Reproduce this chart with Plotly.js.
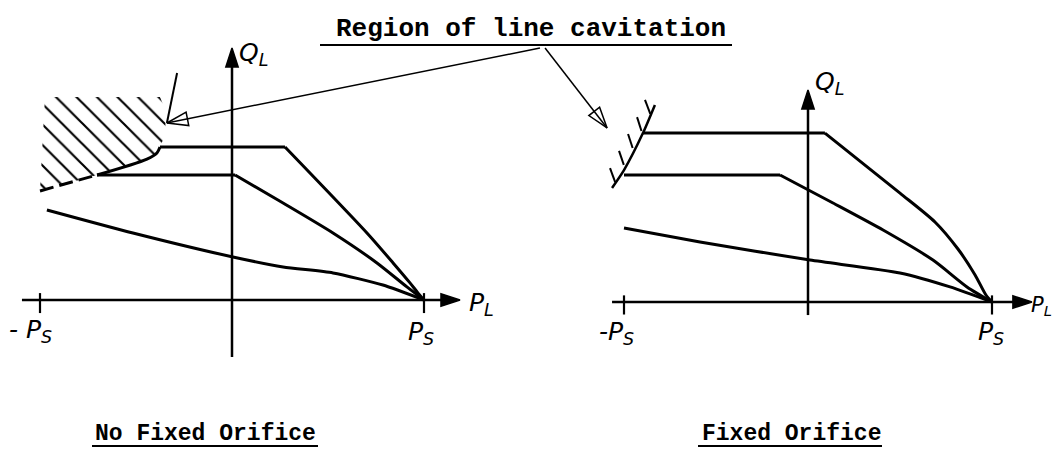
<!DOCTYPE html>
<html>
<head>
<meta charset="utf-8">
<script src="https://cdn.plot.ly/plotly-3.0.1.min.js"></script>
<style>html,body{margin:0;padding:0;background:#fff;}#chart{width:1054px;height:449px;}</style>
</head>
<body>
<div id="chart"></div>
<script>
// ---- Data (normalised units: P/Ps on x, Q on y) ----
// Left panel: "No Fixed Orifice"
const leftTopX = [-0.375, 0.276, 0.703, 0.839, 0.927, 0.969, 1.0];
const leftTopY = [0.797, 0.797, 0.349, 0.193, 0.089, 0.036, 0];
const leftMidX = [-0.703, 0.016, 0.266, 0.526, 0.755, 0.911, 1.0];
const leftMidY = [0.651, 0.651, 0.505, 0.349, 0.193, 0.068, 0];
const leftLowX = [-0.964, -0.516, 0.005, 0.266, 0.526, 0.786, 1.0];
const leftLowY = [0.469, 0.349, 0.224, 0.172, 0.141, 0.078, 0];
const leftBoundX = [-0.703, -0.443, -0.391, -0.375];
const leftBoundY = [0.651, 0.734, 0.766, 0.797];
const leftBoundDashX = [-1.0, -0.703];
const leftBoundDashY = [0.568, 0.651];
const leftHatchX = [-0.974, -0.375, -0.344, -0.349, -0.375, -0.391, -0.443, -0.703, -1.0];
const leftHatchY = [1.057, 1.057, 0.979, 0.859, 0.797, 0.766, 0.734, 0.651, 0.568];
const leftLeaderX = [-0.286, -0.339];
const leftLeaderY = [1.182, 0.922];
const leftPAxisX = [-1.094, 1.1875], leftPAxisY = [0, 0];
const leftQAxisX = [0, 0], leftQAxisY = [-0.297, 1.3125];
const leftArrowX = [1.604, -0.339], leftArrowY = [1.3125, 0.922];

// Right panel: "Fixed Orifice"
const rightTopX = [-0.897, 0.092, 0.5, 0.69, 0.815, 0.908, 0.967, 1.0];
const rightTopY = [0.918, 0.918, 0.592, 0.435, 0.288, 0.147, 0.038, 0];
const rightMidX = [-1.0, -0.152, 0.136, 0.408, 0.679, 0.864, 1.0];
const rightMidY = [0.69, 0.69, 0.538, 0.391, 0.228, 0.082, 0];
const rightLowX = [-1.0, -0.587, 0.011, 0.5, 0.772, 1.0];
const rightLowY = [0.402, 0.326, 0.228, 0.158, 0.082, 0];
const rightBoundX = [-1.065, -1.0, -0.897, -0.832];
const rightBoundY = [0.620, 0.717, 0.918, 1.071];
const rightHatchLowX = [-1.048, -1.001, -0.953, -0.905, -0.857];
const rightHatchLowY = [0.652, 0.745, 0.837, 0.929, 1.022];
const rightHatchUpX = [-1.076, -1.027, -0.978, -0.929, -0.886];
const rightHatchUpY = [0.728, 0.821, 0.913, 1.005, 1.098];
const rightPAxisX = [-1.065, 1.217], rightPAxisY = [0, 0];
const rightQAxisX = [0, 0], rightQAxisY = [-0.071, 1.152];
const rightArrowX = [-1.429, -1.092], rightArrowY = [1.380, 0.946];

const tickX = [-1, 1];

// Text
const titleText = 'Region of line cavitation';
const leftCaption = 'No Fixed Orifice';
const rightCaption = 'Fixed Orifice';

// ---- Build traces ----
const K = 'black';
function line(x, y, w, ax, extra) {
  return Object.assign({type: 'scatter', mode: 'lines', x: x, y: y,
    xaxis: ax === 2 ? 'x2' : 'x', yaxis: ax === 2 ? 'y2' : 'y',
    line: {color: K, width: w}, hoverinfo: 'skip', showlegend: false}, extra || {});
}
// characteristic curve: straight plateau, smooth fall-off
function curve(x, y, ax, split) {
  return [
    line(x.slice(0, split + 1), y.slice(0, split + 1), 3, ax),
    line(x.slice(split), y.slice(split), 3, ax, {line: {color: K, width: 3, shape: 'spline', smoothing: 0.7}})
  ];
}
function arrow(x, y, w, ax, sym, size) {
  return line(x, y, w, ax, {mode: 'lines+markers',
    marker: {symbol: sym, size: [0, size], angleref: 'previous', color: K, opacity: 1,
             line: {color: K, width: 1.5}}});
}
function ticks(ax, up, down) {
  const xs = [], ys = [];
  tickX.forEach(t => { xs.push(t, t, null); ys.push(up, down, null); });
  return line(xs, ys, 2.2, ax);
}
function strokes(lx, ly, ux, uy, ax) {
  const xs = [], ys = [];
  lx.forEach((v, i) => { xs.push(v, ux[i], null); ys.push(ly[i], uy[i], null); });
  return line(xs, ys, 2, ax);
}

const traces = [
  // left panel
  line(leftHatchX, leftHatchY, 0, 1, {fill: 'toself', fillcolor: 'rgba(0,0,0,0)',
    fillpattern: {shape: '\\', size: 14.5, solidity: 0.15, fgcolor: K, bgcolor: 'rgba(0,0,0,0)'}}),
  line(leftBoundX, leftBoundY, 3, 1, {line: {color: K, width: 3, shape: 'spline', smoothing: 0.8}}),
  line(leftBoundDashX, leftBoundDashY, 3, 1, {line: {color: K, width: 3, dash: '14px,6px'}}),
  ...curve(leftTopX, leftTopY, 1, 1),
  ...curve(leftMidX, leftMidY, 1, 1),
  line(leftLowX, leftLowY, 3, 1, {line: {color: K, width: 3, shape: 'spline', smoothing: 0.6}}),
  line(leftLeaderX, leftLeaderY, 2, 1),
  arrow(leftPAxisX, leftPAxisY, 2.5, 1, 'arrow', 20),
  arrow(leftQAxisX, leftQAxisY, 2.5, 1, 'arrow', 20),
  ticks(1, 0.036, -0.068),
  arrow(leftArrowX, leftArrowY, 1.5, 1, 'arrow-open', 22),
  // right panel
  line(rightBoundX, rightBoundY, 2.5, 2, {line: {color: K, width: 2.5, shape: 'spline', smoothing: 0.6}}),
  strokes(rightHatchLowX, rightHatchLowY, rightHatchUpX, rightHatchUpY, 2),
  ...curve(rightTopX, rightTopY, 2, 1),
  ...curve(rightMidX, rightMidY, 2, 1),
  line(rightLowX, rightLowY, 3, 2, {line: {color: K, width: 3, shape: 'spline', smoothing: 0.6}}),
  arrow(rightPAxisX, rightPAxisY, 2.5, 2, 'arrow', 20),
  arrow(rightQAxisX, rightQAxisY, 2.5, 2, 'arrow', 20),
  ticks(2, 0.036, -0.068),
  arrow(rightArrowX, rightArrowY, 1.5, 2, 'arrow-open', 22)
];

const hand = {family: 'DejaVu Sans, sans-serif', size: 25, color: K};
function lab(text, x, y, ax, anchor, size) {
  return {text: '<i>' + text + '</i>', x: x, y: y, xref: ax === 2 ? 'x2' : 'x', yref: ax === 2 ? 'y2' : 'y',
          showarrow: false, font: Object.assign({}, hand, size ? {size: size} : {}),
          xanchor: anchor || 'center', yanchor: 'middle'};
}
const mono = 'Liberation Mono, Courier New, monospace';
const annotations = [
  lab('Q<sub>L</sub>', 0.11, 1.28, 1),
  lab('P<sub>L</sub>', 1.30, -0.02, 1),
  lab('- P<sub>S</sub>', -1.05, -0.16, 1),
  lab('P<sub>S</sub>', 0.985, -0.17, 1),
  lab('Q<sub>L</sub>', 0.115, 1.19, 2),
  lab('P<sub>L</sub>', 1.335, -0.02, 2, 'right', 21),
  lab('-P<sub>S</sub>', -1.04, -0.17, 2),
  lab('P<sub>S</sub>', 0.995, -0.17, 2),
  {text: '<b>' + titleText + '</b>', x: 531 / 1054, y: 1 - 29 / 449, xref: 'paper', yref: 'paper',
   showarrow: false, font: {family: mono, size: 26, color: K}, xanchor: 'center', yanchor: 'middle'},
  {text: '<b>' + leftCaption + '</b>', x: 205 / 1054, y: 1 - 434 / 449, xref: 'paper', yref: 'paper',
   showarrow: false, font: {family: mono, size: 23, color: K}, xanchor: 'center', yanchor: 'middle'},
  {text: '<b>' + rightCaption + '</b>', x: 791 / 1054, y: 1 - 434 / 449, xref: 'paper', yref: 'paper',
   showarrow: false, font: {family: mono, size: 23, color: K}, xanchor: 'center', yanchor: 'middle'}
];
function uline(x0, x1, y) {
  return {type: 'line', xref: 'paper', yref: 'paper', x0: x0 / 1054, x1: x1 / 1054,
          y0: 1 - y / 449, y1: 1 - y / 449, line: {color: K, width: 2}};
}
const shapes = [uline(320, 732, 45), uline(92, 318, 446), uline(698, 882, 446)];

const hidden = {visible: false, fixedrange: true};
const layout = {
  width: 1054, height: 449,
  margin: {l: 0, r: 0, t: 0, b: 0},
  paper_bgcolor: '#fff', plot_bgcolor: '#fff',
  showlegend: false,
  xaxis: Object.assign({domain: [0, 1], range: [-232 / 192, (1054 - 232) / 192]}, hidden),
  yaxis: Object.assign({domain: [0, 1], range: [-(449 - 300) / 192, 300 / 192]}, hidden),
  xaxis2: Object.assign({overlaying: 'x', range: [-808 / 184, (1054 - 808) / 184]}, hidden),
  yaxis2: Object.assign({overlaying: 'y', range: [-(449 - 302) / 184, 302 / 184]}, hidden),
  annotations: annotations,
  shapes: shapes
};
Plotly.newPlot('chart', traces, layout, {staticPlot: true, displayModeBar: false});
</script>
</body>
</html>
